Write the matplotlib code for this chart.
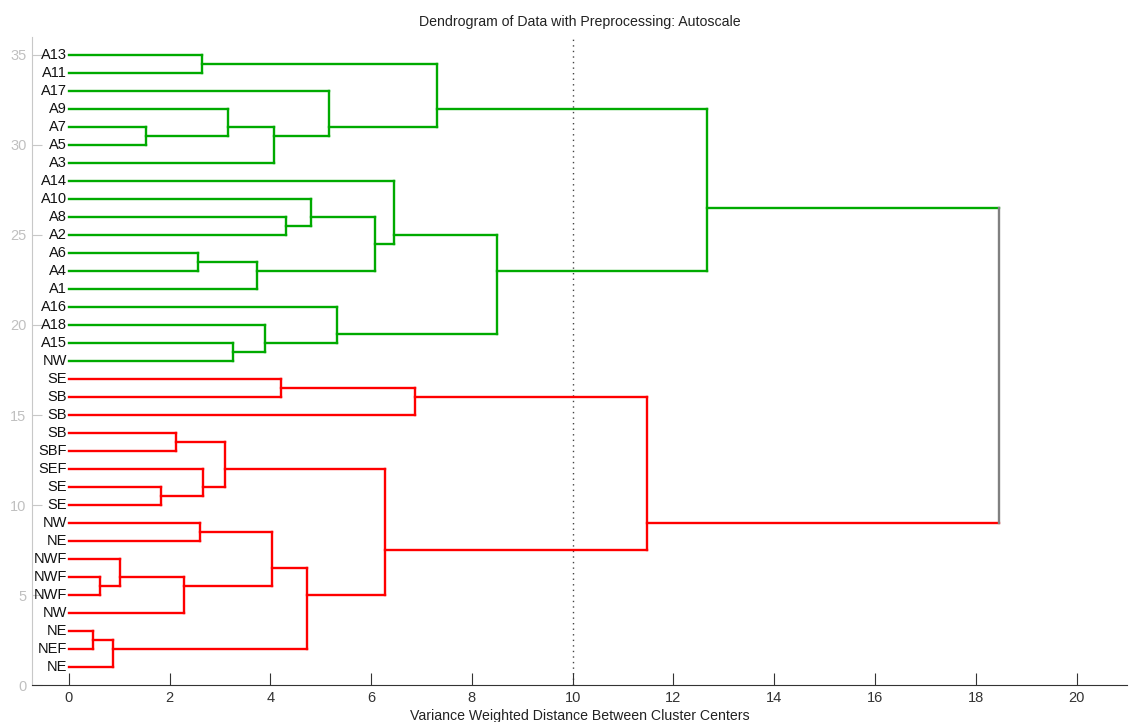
import numpy as np
import matplotlib.pyplot as plt

# leaf labels, bottom to top (leaf i sits at y = i + 1)
leaves = ["NE", "NEF", "NE", "NW", "NWF", "NWF", "NWF", "NE", "NW", "SE",
          "SE", "SEF", "SBF", "SB", "SB", "SB", "SE",
          "NW", "A15", "A18", "A16", "A1", "A4", "A6", "A2", "A8", "A10",
          "A14", "A3", "A5", "A7", "A9", "A17", "A11", "A13"]
# cluster of each leaf: 0 = red group, 1 = green group
leaf_group = [0] * 17 + [1] * 18

# merges like a linkage table: new node id = 35 + row
merge_a = [2, 35, 5, 6, 38, 8, 40, 41, 10, 11, 13, 45, 46, 16, 48, 49,
           18, 19, 20, 23, 54, 25, 26, 57, 27, 59, 30, 31, 62, 32, 34, 65, 66, 67]
merge_b = [1, 0, 4, 37, 3, 7, 39, 36, 9, 43, 12, 44, 42, 15, 14, 47,
           17, 51, 52, 22, 21, 24, 56, 55, 58, 53, 29, 61, 28, 63, 33, 64, 60, 50]
heights = [0.49, 0.87, 0.62, 1.01, 2.28, 2.60, 4.04, 4.73, 1.83, 2.67, 2.12, 3.11,
           6.27, 4.22, 6.87, 11.48, 3.25, 3.89, 5.33, 2.57, 3.73, 4.32, 4.80, 6.08,
           6.45, 8.50, 1.53, 3.17, 4.08, 5.17, 2.65, 7.30, 12.66, 18.46]

group_colors = {0: "#ff0000", 1: "#00aa00", -1: "#808080"}

n = len(leaves)
node_leaves = {i: [i] for i in range(n)}
node_h = {i: 0.0 for i in range(n)}
for k, (a, b, h) in enumerate(zip(merge_a, merge_b, heights)):
    node_leaves[n + k] = node_leaves[a] + node_leaves[b]
    node_h[n + k] = h


def node_y(i):
    return np.mean([j + 1 for j in node_leaves[i]])


def node_color(i):
    g = set(leaf_group[j] for j in node_leaves[i])
    return group_colors[g.pop()] if len(g) == 1 else group_colors[-1]


plt.rcParams['font.family'] = ['Liberation Sans', 'DejaVu Sans']
fig = plt.figure(figsize=(11.3, 7.22), dpi=100)
ax = fig.add_axes([0.0283, 0.0512, 0.969, 0.8976])

ax.axvline(10, color="#444444", ls=(0, (1, 3)), lw=1, zorder=1)

for k, (a, b, h) in enumerate(zip(merge_a, merge_b, heights)):
    node = n + k
    for c in (a, b):
        ax.plot([node_h[c], h], [node_y(c), node_y(c)], color=node_color(c),
                lw=1.7, solid_capstyle="projecting", zorder=2)
    ax.plot([h, h], [node_y(a), node_y(b)], color=node_color(node),
            lw=1.7, solid_capstyle="projecting", zorder=2)

for i, lbl in enumerate(leaves):
    ax.annotate(lbl, (0, i + 1), xytext=(-1.5, 0), textcoords="offset points",
                ha="right", va="center", fontsize=10.5, color="#111111")

ax.set_xlim(-0.73, 21.0)
ax.set_ylim(0, 36)
ax.set_xticks(range(0, 21, 2))
ax.set_yticks(range(0, 36, 5))

ax.spines["top"].set_visible(False)
ax.spines["right"].set_visible(False)
ax.spines["left"].set_color("#c8c8c8")
ax.spines["bottom"].set_color("#333333")
ax.tick_params(axis="y", direction="in", length=7.5, color="#c8c8c8",
               labelcolor="#c0c0c0", labelsize=10.5, pad=4)
ax.tick_params(axis="x", direction="in", length=8.5, color="#333333",
               labelcolor="#333333", labelsize=10.5, pad=4)

ax.set_title("Dendrogram of Data with Preprocessing: Autoscale",
              fontsize=10.2, color="#222222", pad=8)
ax.set_xlabel("Variance Weighted Distance Between Cluster Centers",
              fontsize=10.2, color="#222222", labelpad=3)

fig.savefig("out.png", dpi=100)
